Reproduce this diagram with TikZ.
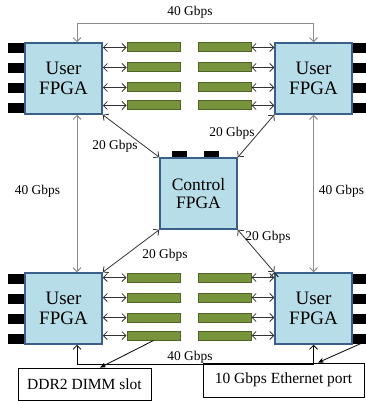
\documentclass[tikz,border=0pt]{standalone}
\usepackage{fontspec}
\setmainfont{Liberation Serif}
\usetikzlibrary{arrows.meta}

\definecolor{fpgafill}{HTML}{B7DEE8}
\definecolor{fpgaline}{HTML}{3A5F8B}
\definecolor{dimmfill}{HTML}{77933C}
\definecolor{dimmline}{HTML}{4F6228}

\begin{document}
\begin{tikzpicture}[
x=1pt,y=-1pt,
fpga/.style={
  draw=fpgaline,
  line width=1.5pt,
  fill=fpgafill,
  minimum width=77pt,
  minimum height=71pt,
  inner sep=0pt,
  align=center,
  font=\fontsize{19}{20}\selectfont
  },
dimm/.style={draw=dimmline,line width=1pt,fill=dimmfill,minimum width=53pt,minimum height=9pt,inner sep=0pt},
port/.style={fill=black,minimum width=17pt,minimum height=10pt,inner sep=0pt},
pad/.style={fill=black,minimum width=15pt,minimum height=7pt,inner sep=0pt},
link/.style={draw=black!80,line width=0.8pt,{Straight Barb[length=4pt,width=8pt]}-{Straight Barb[length=4pt,width=8pt]}},
bus/.style={draw=black!45,line width=1pt,{Straight Barb[length=4pt,width=8pt]}-{Straight Barb[length=4pt,width=8pt]}},
lbl/.style={font=\fontsize{13.4}{14}\selectfont,inner sep=0pt},
callout/.style={draw,line width=0.8pt,-{Stealth[length=6pt,width=5pt]}},
textbox/.style={draw,line width=0.8pt,inner sep=0pt,font=\fontsize{15.5}{16}\selectfont}
]
\useasboundingbox (0,0) rectangle (365,401);
% ports go below the FPGAs
\foreach \i/\dy in {1/-30,2/-10,3/10,4/30}{
  \node[port] (ptl\i) at (16.5,78.5+\dy) {};
  \node[port] (ptr\i) at (360.5,78.5+\dy) {};
  \node[port] (pbl\i) at (16.5,308.5+\dy) {};
  \node[port] (pbr\i) at (360.5,308.5+\dy) {};
}
\node[fpga] (tl) at (63.5,78.5) {User\\FPGA};
\node[fpga] (tr) at (313.5,78.5) {User\\FPGA};
\node[fpga] (bl) at (63.5,308.5) {User\\FPGA};
\node[fpga] (br) at (313.5,308.5) {User\\FPGA};
\node[pad] (pad1) at (179.5,154.5) {};
\node[pad] (pad2) at (211.5,154.5) {};
\node[fpga,font=\fontsize{17.5}{18.5}\selectfont] (ctl) at (198.5,193.5) {Control\\FPGA};

% DIMM slots and their links
\foreach \i/\dy in {1/-31,2/-11,3/9,4/27}{
  \node[dimm] (dtl\i) at (153.5,78.5+\dy) {};
  \node[dimm] (dtr\i) at (224.5,78.5+\dy) {};
  \node[dimm] (dbl\i) at (153.5,308.5+\dy) {};
  \node[dimm] (dbr\i) at (224.5,308.5+\dy) {};
  \path[link] (dtl\i.west) -- (dtl\i.west -| tl.east);
  \path[link] (dtr\i.east) -- (dtr\i.east -| tr.west);
  \path[link] (dbl\i.west) -- (dbl\i.west -| bl.east);
  \path[link] (dbr\i.east) -- (dbr\i.east -| br.west);
}

% 40 Gbps links
\path[bus] ([xshift=13.5pt]tl.north) -- ++(0,-19) -| (tr.north);
\path[bus] ([xshift=13.5pt]tl.south) -- ([xshift=13.5pt]bl.north);
\path[bus] (tr.south) -- (br.north);
\path[link,draw=black] ([xshift=13.5pt]bl.south) -- ++(0,20) -| (br.south);
\node[lbl] (l40t) at (190,12) {40 Gbps};
\node[lbl] (l40l) at (37.5,191) {40 Gbps};
\node[lbl] (l40r) at (341.5,191) {40 Gbps};
\node[lbl] (l40b) at (190,357) {40 Gbps};

% 20 Gbps links
\path[link]
  (tl.south east) edge (ctl.north west)
  (tr.south west) edge (ctl.north east)
  (bl.north east) edge (ctl.south west)
  (br.north west) edge (ctl.south east);
\node[lbl] (l20a) at (115,146) {20 Gbps};
\node[lbl] (l20b) at (232,133) {20 Gbps};
\node[lbl] (l20c) at (165,255) {20 Gbps};
\node[lbl] (l20d) at (268,237) {20 Gbps};

% call-outs
\node[textbox,minimum width=133pt,minimum height=32pt] (ddr) at (84.5,384) {DDR2 DIMM slot};
\node[textbox,minimum width=161pt,minimum height=34pt] (eth) at (283.5,380) {10 Gbps Ethernet port};
\path[callout] (dbl4.south) -- ([xshift=15.5pt]ddr.north);
\path[callout] (pbr4.south) -- ([xshift=34.5pt]eth.north);
\end{tikzpicture}
\end{document}
